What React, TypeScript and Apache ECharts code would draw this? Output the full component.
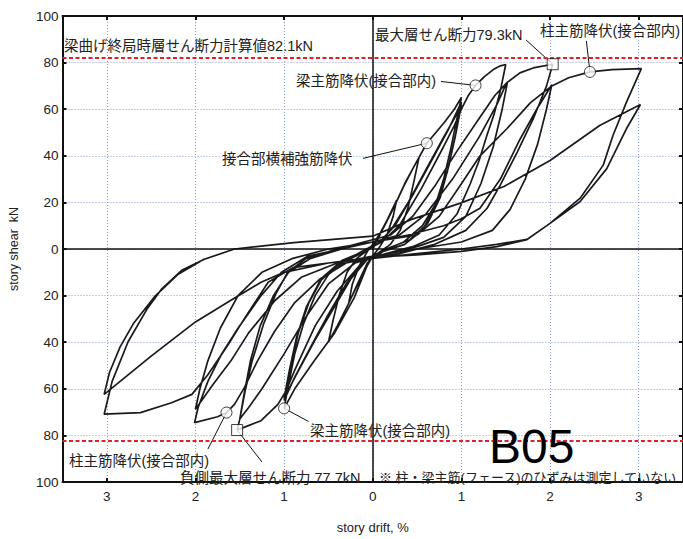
import React, { useEffect, useRef } from "react";
import * as echarts from "echarts";

// ---- data (story drift %, story shear kN) ----
const startPoint: number[][] = [[0, 0]];
const cycle1: number[][] = [[0.08,6],[0.17,13],[0.27,21],[0.23,14],[0.16,6],[0.08,1],[0,-3],[-0.09,-9],[-0.18,-16],[-0.27,-23],[-0.23,-15],[-0.15,-7],[-0.06,-1],[0.02,3]];
const cycle2: number[][] = [[0.12,9],[0.24,18],[0.36,28],[0.46,35],[0.52,39],[0.47,30],[0.4,18],[0.31,8],[0.2,2],[0.05,-2],[-0.06,-6],[-0.16,-14],[-0.28,-24],[-0.4,-33],[-0.5,-40],[-0.45,-31],[-0.38,-20],[-0.29,-10],[-0.18,-4],[-0.04,0],[0.04,3]];
const cycle3: number[][] = [[0.1,8],[0.24,18],[0.35,27],[0.46,35],[0.61,45.4],[0.8,54],[0.92,60],[1.0,65],[0.95,56],[0.88,43],[0.8,30],[0.7,18],[0.56,8],[0.36,2],[0.12,-1],[-0.04,-5],[-0.21,-21],[-0.43,-36],[-0.66,-48],[-0.88,-60],[-1.0,-68.4],[-0.95,-58],[-0.88,-45],[-0.78,-32],[-0.65,-20],[-0.5,-11],[-0.3,-5],[-0.08,-1],[0.08,3]];
const cycle4: number[][] = [[0.22,9],[0.4,20],[0.6,34],[0.8,48],[0.92,56],[1.0,62],[0.94,50],[0.86,36],[0.76,22],[0.62,11],[0.42,4],[0.15,0],[-0.05,-4],[-0.25,-13],[-0.45,-26],[-0.65,-39],[-0.85,-53],[-1.0,-64],[-0.94,-52],[-0.86,-38],[-0.75,-25],[-0.6,-14],[-0.4,-7],[-0.12,-1],[0.08,3]];
const cycle5: number[][] = [[0.25,10],[0.45,23],[0.65,37],[0.85,51],[1.0,63],[0.93,48],[0.84,33],[0.72,20],[0.56,10],[0.35,3],[0.1,-1],[-0.1,-5],[-0.3,-15],[-0.5,-28],[-0.7,-42],[-0.88,-55],[-1.0,-65],[-0.93,-51],[-0.84,-36],[-0.72,-23],[-0.56,-12],[-0.35,-5],[-0.1,-1],[0.1,3]];
const cycle6: number[][] = [[0.3,10],[0.55,26],[0.8,44],[0.92,53],[1.0,60],[1.08,66],[1.16,70.2],[1.26,74],[1.36,77],[1.44,78.6],[1.5,79.2],[1.44,68],[1.37,58],[1.29,49],[1.2,38],[1.1,28],[0.95,15],[0.75,6],[0.45,1],[0.15,-2],[-0.1,-5],[-0.4,-18],[-0.65,-33],[-0.88,-52],[-0.98,-61],[-1.07,-66.7],[-1.26,-73.7],[-1.41,-75.9],[-1.53,-77.7],[-1.5,-73],[-1.44,-61],[-1.36,-48],[-1.23,-32],[-1.09,-19],[-0.96,-10],[-0.75,-4],[-0.4,0],[-0.1,3]];
const cycle7: number[][] = [[0.2,6],[0.45,14],[0.7,27],[0.95,42],[1.2,56],[1.38,66],[1.52,71.6],[1.46,60],[1.36,44],[1.22,28],[1.05,14],[0.8,5],[0.5,1],[0.15,-2],[-0.2,-6],[-0.5,-15],[-0.75,-29],[-1.0,-45],[-1.25,-60],[-1.4,-68],[-1.5,-73],[-1.45,-62],[-1.38,-48],[-1.27,-33],[-1.12,-20],[-0.95,-10],[-0.7,-4],[-0.35,0],[0,3]];
const cycle8: number[][] = [[0.3,6],[0.6,15],[0.9,30],[1.2,48],[1.4,62],[1.51,71.3],[1.66,75.6],[1.81,77.7],[2.03,79.3],[1.96,69.9],[1.81,55.8],[1.63,41.6],[1.44,27.5],[1.29,17.5],[1.05,8],[0.7,2],[0.3,-2],[-0.05,-4],[-0.3,-6],[-0.6,-13],[-0.88,-23],[-1.11,-35.5],[-1.3,-48],[-1.45,-59.6],[-1.56,-66.7],[-1.65,-70.2],[-1.75,-72],[-2.01,-74.5],[-1.97,-68],[-1.86,-56.8],[-1.71,-45.4],[-1.52,-34],[-1.26,-20],[-1.03,-10],[-0.73,-3],[-0.35,0],[0,3]];
const cycle9: number[][] = [[0.4,6],[0.8,10],[1.0,13],[1.21,17.5],[1.44,30],[1.66,47],[1.85,60],[2.02,70.5],[1.96,60],[1.86,45],[1.72,30],[1.55,17],[1.35,8],[1.0,3],[0.5,0],[0,-3],[-0.4,-6],[-0.8,-12],[-1.1,-22],[-1.4,-36],[-1.6,-48],[-1.8,-58],[-2.0,-68.8],[-1.95,-60],[-1.86,-48],[-1.72,-34],[-1.52,-20],[-1.25,-10],[-0.9,-4],[-0.5,0],[0,3],[0.5,6]];
const cycle10: number[][] = [[0.75,14],[1.0,28],[1.21,40],[1.51,51.5],[1.78,62.8],[2.02,70],[2.21,73.5],[2.45,76],[2.7,77],[3.03,77.4],[2.86,62.8],[2.71,48.7],[2.6,36],[2.34,21.8],[2.0,11],[1.74,4.1],[1.4,2],[1.0,0],[0.5,-2],[0,-4],[-0.5,-6],[-0.9,-8],[-1.18,-14.3],[-1.45,-30],[-1.63,-41],[-1.86,-54],[-2.04,-62.4],[-2.27,-66],[-2.62,-70.2],[-3.03,-70.9],[-2.94,-56.8],[-2.76,-39.8],[-2.55,-26],[-2.38,-17.1],[-2.15,-9],[-1.9,-4.4],[-1.56,0],[-0.89,2.7],[0,5.5]];
const cycle11: number[][] = [[0.43,12.6],[0.99,19.7],[1.48,26.8],[2.0,38],[2.56,53],[3.02,62],[2.86,51.5],[2.64,34.5],[2.34,20.4],[2.0,11],[1.74,4],[1.4,1],[1.0,-1],[0.5,-2.5],[0,-3.5],[-0.5,-6],[-1.0,-10],[-1.26,-14.3],[-1.6,-22],[-2.0,-31.3],[-2.5,-46],[-3.03,-62.4],[-2.97,-53],[-2.85,-42],[-2.7,-32],[-2.45,-20],[-2.2,-11],[-1.9,-4.3]];

const circleMarks: number[][] = [[0.61,45.4],[1.16,70.2],[2.45,76],[-1.0,-68.4],[-1.65,-70.2]];
const squareMarks: number[][] = [[2.03,79.3],[-1.53,-77.7]];

// leader lines: [from, to] in data coords
const leaders: number[][][] = [
  [[1.73,89.7],[2.03,79.3]],
  [[2.41,89.3],[2.45,76]],
  [[0.77,71.9],[1.16,70.2]],
  [[-0.11,38.9],[0.61,45.4]],
  [[-1.0,-68.4],[-0.725,-74]],
  [[-1.86,-85.9],[-1.65,-70.2]],
  [[-1.53,-77.7],[-1.25,-91.4]],
];

const xTicks = [-3, -2, -1, 0, 1, 2, 3];
const ultimateShear = 82.1;

const annotations = [
  { text: "梁曲げ終局時層せん断力計算値82.1kN", x: 64, y: 46 },
  { text: "最大層せん断力79.3kN", x: 375, y: 35 },
  { text: "柱主筋降伏(接合部内)", x: 540, y: 31 },
  { text: "梁主筋降伏(接合部内)", x: 296, y: 81 },
  { text: "接合部横補強筋降伏", x: 222, y: 159 },
  { text: "梁主筋降伏(接合部内)", x: 310, y: 431 },
  { text: "柱主筋降伏(接合部内)", x: 69, y: 461 },
  { text: "負側最大層せん断力 77.7kN", x: 180, y: 478 },
];
const noteText = "※ 柱・梁主筋(フェース)のひずみは測定していない";
const specimen = "B05";

const FONT = "'Liberation Sans', 'Noto Sans CJK JP', sans-serif";

export default function App() {
  const ref = useRef<HTMLDivElement>(null);
  useEffect(() => {
    if (!ref.current) return;
    const chart = echarts.init(ref.current, undefined, { renderer: "svg" });
    const path = [
      ...startPoint, ...cycle1, ...cycle2, ...cycle3, ...cycle4, ...cycle5, ...cycle6,
      ...cycle7, ...cycle8, ...cycle9, ...cycle10, ...cycle11,
    ];
    const grid = { left: 58, top: 16, width: 627, height: 472 };
    const gridLine = { show: true, lineStyle: { color: "#8e9cd8", type: [1, 2] as any, width: 1 } };
    const frame = { show: true, lineStyle: { color: "#111", width: 2 } };
    const tick = { show: true, inside: true, length: 4, lineStyle: { color: "#111", width: 2 } };
    const labelStyle = { fontFamily: FONT, fontSize: 13.5, color: "#222" };

    const leaderSeries = leaders.map((l) => ({
      type: "line",
      data: l,
      symbol: "none",
      silent: true,
      z: 4,
      lineStyle: { color: "#111", width: 1 },
    }));

    chart.setOption({
      animation: false,
      grid,
      xAxis: [
        {
          type: "value", min: -3.5, max: 3.5,
          name: "story drift, %", nameLocation: "middle", nameGap: 39,
          nameTextStyle: { fontFamily: FONT, fontSize: 13, color: "#222" },
          axisLine: { ...frame, onZero: false },
          axisTick: { ...tick, customValues: xTicks },
          axisLabel: { ...labelStyle, margin: 8, customValues: xTicks, formatter: (v: number) => String(Math.abs(v)) },
          splitLine: gridLine,
        },
        {
          type: "value", min: -3.5, max: 3.5, position: "top",
          axisLine: { ...frame, onZero: false },
          axisTick: { ...tick, customValues: xTicks },
          axisLabel: { show: false },
          splitLine: { show: false },
        },
      ],
      yAxis: [
        {
          type: "value", min: -100, max: 100, interval: 20,
          name: "story shear  kN", nameLocation: "middle", nameGap: 42,
          nameTextStyle: { fontFamily: FONT, fontSize: 12.5, color: "#222" },
          axisLine: { ...frame, onZero: false },
          axisTick: tick,
          axisLabel: { ...labelStyle, margin: 4, formatter: (v: number) => String(Math.abs(v)) },
          splitLine: gridLine,
        },
        {
          type: "value", min: -100, max: 100, interval: 20, position: "right",
          axisLine: { ...frame, onZero: false },
          axisTick: tick,
          axisLabel: { show: false },
          splitLine: { show: false },
        },
      ],
      series: [
        {
          type: "line",
          data: path,
          symbol: "none",
          z: 3,
          lineStyle: { color: "#1a1a1a", width: 1.7 },
          markLine: {
            silent: true,
            symbol: ["none", "none"],
            label: { show: false },
            data: [
              { xAxis: 0, lineStyle: { color: "#111", width: 1.5, type: "solid" } },
              { yAxis: 0, lineStyle: { color: "#111", width: 1.5, type: "solid" } },
              { yAxis: ultimateShear, lineStyle: { color: "#e3202a", width: 2, type: [4, 2.5] } },
              { yAxis: -ultimateShear, lineStyle: { color: "#e3202a", width: 2, type: [4, 2.5] } },
            ],
          },
        },
        ...leaderSeries,
        {
          type: "scatter", data: circleMarks, symbol: "circle", symbolSize: 11, z: 6,
          itemStyle: { color: "#fff", borderColor: "#111", borderWidth: 1 },
        },
        {
          type: "scatter", data: squareMarks, symbol: "rect", symbolSize: 11, z: 6,
          itemStyle: { color: "#fff", borderColor: "#111", borderWidth: 1 },
        },
      ],
      graphic: [
        ...annotations.map((a) => ({
          type: "text", x: a.x, y: a.y, z: 10,
          style: { text: a.text, fontFamily: FONT, fontSize: 14.5, fill: "#222", textVerticalAlign: "middle" },
        })),
        {
          type: "text", x: 379, y: 477, z: 10,
          style: { text: noteText, fontFamily: FONT, fontSize: 13, fill: "#222", textVerticalAlign: "middle" },
        },
        {
          type: "text", x: 489, y: 446, z: 10,
          style: { text: specimen, fontFamily: "'Liberation Sans', sans-serif", fontSize: 48, fill: "#000", textVerticalAlign: "middle" },
        },
      ],
    });
    return () => chart.dispose();
  }, []);
  return <div ref={ref} style={{ position: "fixed", left: 0, top: 0, width: 683, height: 539, background: "#fff" }} />;
}
